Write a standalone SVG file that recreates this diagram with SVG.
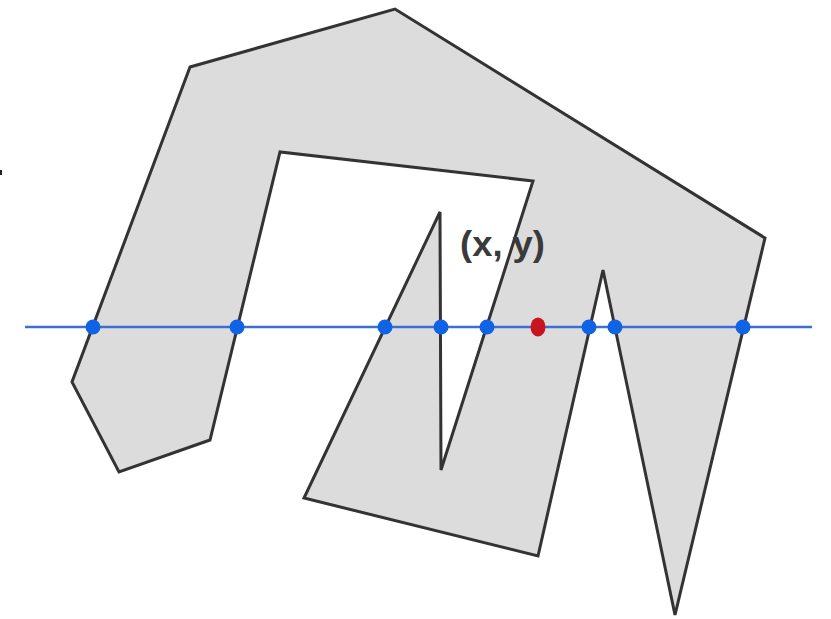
<svg xmlns="http://www.w3.org/2000/svg" width="831" height="619" viewBox="0 0 831 619">
<style>
.poly{fill:#dcdcdc;stroke:#333;stroke-width:3;stroke-linejoin:miter}
.ray{stroke:#3a6fd6;stroke-width:2.5}
.hit{fill:#1163e6}
.pt{fill:#c8141e}
.lbl{font-family:"Liberation Sans",Arial,sans-serif;font-size:35px;font-weight:bold;fill:#3a3a3a}
</style>
<rect width="831" height="619" fill="#fff"/>
<rect x="0" y="170" width="2" height="5" fill="#222"/>
<g id="polygon">
<polygon class="poly" points="190,67 395,9 765,238 675,615 603,270 538,556 304,498 440,212 441,470 533,181 280,152 210,440 119,472 72,382"/>
</g>
<g id="connectors">
<line class="ray" x1="25" y1="327" x2="812" y2="327"/>
</g>
<g id="intersections">
<circle class="hit" cx="93" cy="327" r="7.5"/>
<circle class="hit" cx="237" cy="327" r="7.5"/>
<circle class="hit" cx="385" cy="327" r="7.5"/>
<circle class="hit" cx="441" cy="327" r="7.5"/>
<circle class="hit" cx="487" cy="327" r="7.5"/>
<circle class="hit" cx="589" cy="327" r="7.5"/>
<circle class="hit" cx="615" cy="327" r="7.5"/>
<circle class="hit" cx="743" cy="327" r="7.5"/>
</g>
<g id="point">
<ellipse class="pt" cx="538" cy="327" rx="7.5" ry="9.5"/>
<text class="lbl" x="460" y="256" textLength="85" lengthAdjust="spacingAndGlyphs">(x, y)</text>
</g>
</svg>
